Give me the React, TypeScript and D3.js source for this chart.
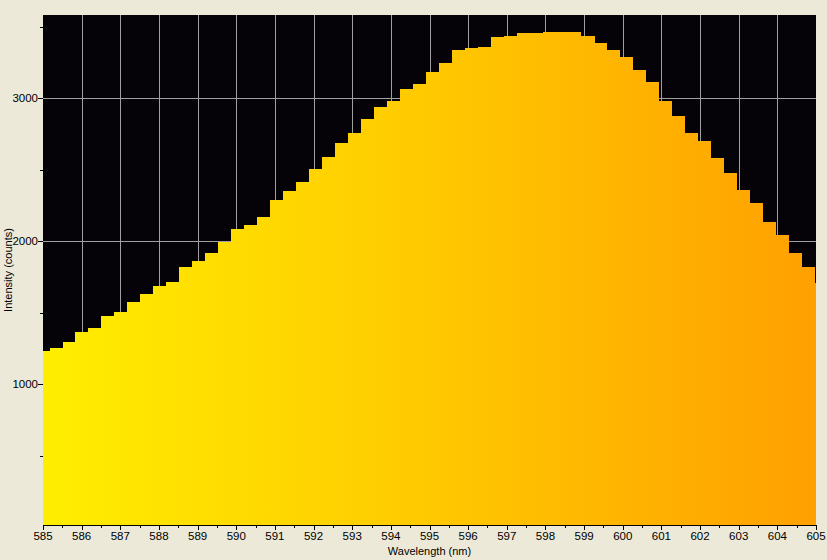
import React, { useRef, useEffect } from "react";
import * as d3 from "d3";

const wavelengths = [
  585.0, 585.34, 585.67, 586.01, 586.34, 586.68, 587.01, 587.35, 587.69, 588.02,
  588.36, 588.69, 589.03, 589.36, 589.7, 590.04, 590.37, 590.71, 591.04, 591.38,
  591.71, 592.05, 592.39, 592.72, 593.06, 593.39, 593.73, 594.06, 594.4, 594.74,
  595.07, 595.41, 595.74, 596.08, 596.41, 596.75, 597.09, 597.42, 597.76, 598.09,
  598.43, 598.76, 599.1, 599.44, 599.77, 600.11, 600.44, 600.78, 601.11, 601.45,
  601.79, 602.12, 602.46, 602.79, 603.13, 603.46, 603.8, 604.14, 604.47, 604.81,
  605.14,
];
const intensity = [
  1233, 1254, 1296, 1366, 1394, 1478, 1506, 1576, 1631, 1687,
  1715, 1820, 1862, 1918, 1995, 2086, 2114, 2170, 2289, 2352,
  2415, 2506, 2590, 2687, 2757, 2855, 2939, 2981, 3065, 3100,
  3184, 3247, 3338, 3352, 3359, 3429, 3436, 3457, 3457, 3464,
  3464, 3464, 3436, 3387, 3338, 3289, 3198, 3114, 2981, 2876,
  2757, 2701, 2583, 2478, 2359, 2268, 2135, 2044, 1918, 1820,
  1708,
];

const xTicks = [585, 586, 587, 588, 589, 590, 591, 592, 593, 594, 595, 596, 597, 598, 599, 600, 601, 602, 603, 604, 605];
const xMinorTicks = [585.5, 586.5, 587.5, 588.5, 589.5, 590.5, 591.5, 592.5, 593.5, 594.5, 595.5, 596.5, 597.5, 598.5, 599.5, 600.5, 601.5, 602.5, 603.5, 604.5];
const yTicks = [1000, 2000, 3000];
const yMinorTicks = [500, 1500, 2500, 3500];

const W = 827;
const H = 560;
const FONT = "'Liberation Sans', Arial, sans-serif";

const App: React.FC = () => {
  const ref = useRef<SVGSVGElement | null>(null);
  const margin = { top: 15, right: 11, bottom: 35, left: 43 };

  useEffect(() => {
    const svg = d3.select(ref.current);
    svg.selectAll("*").remove();

    const x0 = margin.left;
    const x1 = W - margin.right;
    const y0 = margin.top;
    const y1 = H - margin.bottom;

    const xScale = d3.scaleLinear().domain([585, 605]).range([x0, x1]);
    const yScale = d3.scaleLinear().domain([16, 3582]).range([y1, y0]);

    svg.append("rect").attr("width", W).attr("height", H).attr("fill", "#ECE9D8");

    const defs = svg.append("defs");
    defs
      .append("clipPath")
      .attr("id", "plotClip")
      .append("rect")
      .attr("x", x0)
      .attr("y", y0)
      .attr("width", x1 - x0)
      .attr("height", y1 - y0);

    const grad = defs
      .append("linearGradient")
      .attr("id", "specGrad")
      .attr("gradientUnits", "userSpaceOnUse")
      .attr("x1", x0)
      .attr("x2", x1)
      .attr("y1", 0)
      .attr("y2", 0);
    grad.append("stop").attr("offset", "0%").attr("stop-color", "#FFEE00");
    grad.append("stop").attr("offset", "50%").attr("stop-color", "#FFC900");
    grad.append("stop").attr("offset", "100%").attr("stop-color", "#FFA000");

    // plot background
    svg
      .append("rect")
      .attr("x", x0)
      .attr("y", y0)
      .attr("width", x1 - x0)
      .attr("height", y1 - y0)
      .attr("fill", "#050308");

    // grid
    const grid = svg.append("g").attr("stroke", "#A0A0A0").attr("stroke-width", 1);
    xTicks
      .filter((t) => t > 585 && t < 605)
      .forEach((t) => {
        const px = Math.round(xScale(t)) + 0.5;
        grid.append("line").attr("x1", px).attr("x2", px).attr("y1", y0).attr("y2", y1);
      });
    yTicks.forEach((t) => {
      const py = Math.round(yScale(t)) + 0.5;
      grid.append("line").attr("x1", x0).attr("x2", x1).attr("y1", py).attr("y2", py);
    });

    const data = wavelengths.map((w, i) => ({ w, v: intensity[i] }));
    const area = d3
      .area<{ w: number; v: number }>()
      .curve(d3.curveStep)
      .x((d) => xScale(d.w))
      .y0(y1)
      .y1((d) => yScale(d.v));

    svg
      .append("path")
      .datum(data)
      .attr("clip-path", "url(#plotClip)")
      .attr("fill", "url(#specGrad)")
      .attr("shape-rendering", "crispEdges")
      .attr("d", area);

    // x axis
    svg
      .append("line")
      .attr("x1", x0)
      .attr("x2", x1 + 1)
      .attr("y1", y1 + 0.5)
      .attr("y2", y1 + 0.5)
      .attr("stroke", "#000");

    const ticks = svg.append("g").attr("stroke", "#000").attr("stroke-width", 1);
    xTicks.forEach((t) => {
      const px = Math.round(xScale(t)) + 0.5;
      ticks.append("line").attr("x1", px).attr("x2", px).attr("y1", y1).attr("y2", y1 + 5);
    });
    xMinorTicks.forEach((t) => {
      const px = Math.round(xScale(t)) + 0.5;
      ticks.append("line").attr("x1", px).attr("x2", px).attr("y1", y1).attr("y2", y1 + 3);
    });
    yTicks.forEach((t) => {
      const py = Math.round(yScale(t)) + 0.5;
      ticks.append("line").attr("x1", x0 - 5).attr("x2", x0).attr("y1", py).attr("y2", py);
    });
    yMinorTicks.forEach((t) => {
      const py = Math.round(yScale(t)) + 0.5;
      ticks.append("line").attr("x1", x0 - 3).attr("x2", x0).attr("y1", py).attr("y2", py);
    });

    svg
      .append("g")
      .selectAll("text")
      .data(xTicks)
      .join("text")
      .attr("x", (d) => xScale(d))
      .attr("y", y1 + 15)
      .attr("text-anchor", "middle")
      .attr("font-family", FONT)
      .attr("font-size", 11.5)
      .attr("fill", "#000")
      .text((d) => d);

    svg
      .append("g")
      .selectAll("text")
      .data(yTicks)
      .join("text")
      .attr("x", x0 - 5)
      .attr("y", (d) => yScale(d) + 4)
      .attr("text-anchor", "end")
      .attr("font-family", FONT)
      .attr("font-size", 11.5)
      .attr("fill", "#000")
      .text((d) => d);

    svg
      .append("text")
      .attr("x", (x0 + x1) / 2)
      .attr("y", H - 5)
      .attr("text-anchor", "middle")
      .attr("font-family", FONT)
      .attr("font-size", 11)
      .attr("fill", "#000")
      .text("Wavelength (nm)");

    svg
      .append("text")
      .attr("transform", `translate(12,${(y0 + y1) / 2}) rotate(-90)`)
      .attr("text-anchor", "middle")
      .attr("font-family", FONT)
      .attr("font-size", 11)
      .attr("fill", "#000")
      .text("Intensity (counts)");
  }, []);

  return (
    <svg
      ref={ref}
      width={W}
      height={H}
      style={{ position: "absolute", left: 0, top: 0, display: "block" }}
    ></svg>
  );
};

export default App;
